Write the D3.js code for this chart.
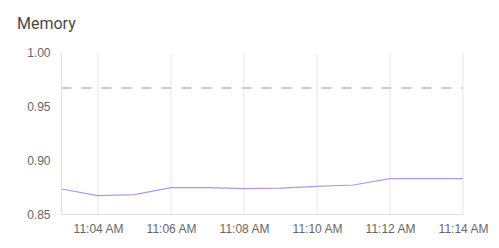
<!DOCTYPE html>
<html>
<head>
<meta charset="utf-8">
<script src="https://cdn.jsdelivr.net/npm/d3@7"></script>
<style>
  body { margin: 0; background: #fff; font-family: Roboto, "Noto Sans", sans-serif; }
  .title { font-size: 16px; fill: #4a4a4a; }
  .tick text { font-size: 12px; fill: #666; }
</style>
</head>
<body>
<svg id="chart" width="499" height="248"></svg>
<script>
  // data
  const times = ["11:03", "11:04", "11:05", "11:06", "11:07", "11:08", "11:09", "11:10", "11:11", "11:12", "11:13", "11:14"];
  const memory = [0.8737, 0.8675, 0.8684, 0.8749, 0.8749, 0.874, 0.8745, 0.8762, 0.8774, 0.8833, 0.8833, 0.8833];
  const limit = 0.9676;
  const yTicks = [0.85, 0.90, 0.95, 1.00];
  const xTicks = ["11:04", "11:06", "11:08", "11:10", "11:12", "11:14"];

  const W = 499, H = 248;
  const m = { top: 53, right: 36, bottom: 33.5, left: 61.5 };

  const parse = (s) => {
    const [h, mi] = s.split(":").map(Number);
    return new Date(2024, 0, 1, h, mi);
  };
  const rows = times.map((t, i) => ({ t: parse(t), v: memory[i] }));

  const svg = d3.select("#chart");

  const x = d3.scaleTime()
    .domain([parse(times[0]), parse(times[times.length - 1])])
    .range([m.left, W - m.right]);
  const y = d3.scaleLinear()
    .domain([0.85, 1.0])
    .range([H - m.bottom, m.top]);

  svg.append("text").attr("class", "title")
    .attr("x", 17).attr("y", 29).text("Memory");

  // vertical grid lines
  svg.append("g")
    .selectAll("line")
    .data(xTicks.map(parse))
    .join("line")
    .attr("x1", (d) => x(d)).attr("x2", (d) => x(d))
    .attr("y1", m.top).attr("y2", H - m.bottom)
    .attr("stroke", "#e6e6e6").attr("stroke-width", 1);

  // left + bottom axis lines
  svg.append("line")
    .attr("x1", m.left).attr("x2", m.left)
    .attr("y1", m.top).attr("y2", H - m.bottom)
    .attr("stroke", "#e0e0e0");
  svg.append("line")
    .attr("x1", m.left).attr("x2", W - m.right)
    .attr("y1", H - m.bottom).attr("y2", H - m.bottom)
    .attr("stroke", "#e0e0e0");

  const fmt = d3.timeFormat("%-I:%M %p");
  const xAxis = svg.append("g")
    .attr("transform", `translate(0,${H - m.bottom})`)
    .call(d3.axisBottom(x).tickValues(xTicks.map(parse)).tickFormat(fmt).tickSize(0).tickPadding(10));
  xAxis.select(".domain").remove();

  const yAxis = svg.append("g")
    .attr("transform", `translate(${m.left},0)`)
    .call(d3.axisLeft(y).tickValues(yTicks).tickFormat(d3.format(".2f")).tickSize(0).tickPadding(11));
  yAxis.select(".domain").remove();

  // limit line
  svg.append("line")
    .attr("x1", m.left).attr("x2", W - m.right)
    .attr("y1", y(limit)).attr("y2", y(limit))
    .attr("stroke", "#d1c4e9").attr("stroke-width", 2)
    .attr("stroke-dasharray", "10,10");

  // memory line
  const line = d3.line().x((d) => x(d.t)).y((d) => y(d.v));
  svg.append("path")
    .datum(rows)
    .attr("fill", "none")
    .attr("stroke", "#b197e6")
    .attr("stroke-width", 1.2)
    .attr("d", line);
</script>
</body>
</html>
